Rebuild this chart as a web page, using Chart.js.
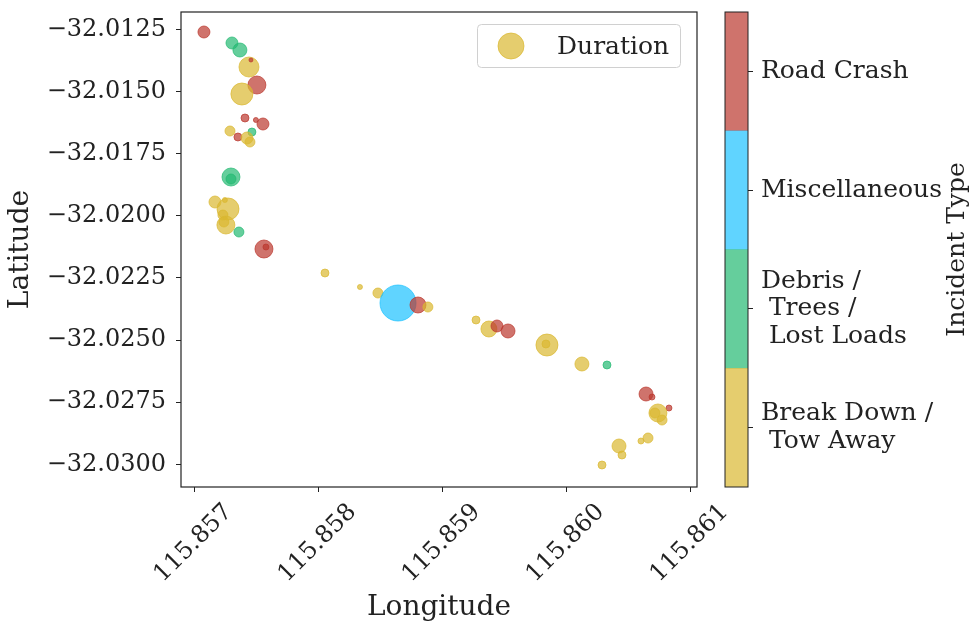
<!DOCTYPE html>
<html>
<head>
<meta charset="utf-8">
<script src="https://cdn.jsdelivr.net/npm/chart.js@4"></script>
<style>
  html, body { margin: 0; padding: 0; background: #fff; }
  #wrap { position: relative; width: 974px; height: 629px; }
  #map { position: absolute; left: 0; top: 0; }
  #bar { position: absolute; left: 710px; top: 0; }
</style>
</head>
<body>
<div id="wrap">
  <canvas id="map" width="740" height="629"></canvas>
  <canvas id="bar" width="264" height="629"></canvas>
</div>
<script>
// Incident categories (bottom to top on the colorbar) and their colours
const incidentTypes = [['Break Down /', ' Tow Away'], ['Debris /', ' Trees /', ' Lost Loads'], 'Miscellaneous', 'Road Crash'];
const typeColors = ['rgba(218,184,48,0.7)', 'rgba(36,185,114,0.7)', 'rgba(29,194,255,0.7)', 'rgba(186,55,45,0.7)'];

// Incidents: position, duration (bubble size) and category index
const lon = [115.857075, 115.857301, 115.857365, 115.857438, 115.857454, 115.857502, 115.857381, 115.857406, 115.857494, 115.857551,
  115.857285, 115.857349, 115.857462, 115.857422, 115.857446, 115.857293, 115.857293, 115.857164, 115.857269, 115.857244,
  115.857228, 115.857252, 115.857236, 115.857357, 115.857559, 115.857575, 115.858051, 115.858333, 115.858478, 115.858640,
  115.858801, 115.858881, 115.859269, 115.859373, 115.859438, 115.859527, 115.859841, 115.859833, 115.860123, 115.860325,
  115.860640, 115.860688, 115.860825, 115.860736, 115.860769, 115.860712, 115.860656, 115.860599, 115.860422, 115.860446,
  115.860285];
const lat = [-32.012609, -32.013051, -32.013333, -32.014017, -32.013735, -32.014741, -32.015103, -32.016068, -32.016149, -32.016310,
  -32.016591, -32.016833, -32.016632, -32.016873, -32.017034, -32.018442, -32.018522, -32.019448, -32.019729, -32.019367,
  -32.019971, -32.020373, -32.020252, -32.020655, -32.021339, -32.021258, -32.022304, -32.022867, -32.023109, -32.023511,
  -32.023591, -32.023672, -32.024195, -32.024557, -32.024436, -32.024637, -32.025201, -32.025160, -32.025965, -32.026005,
  -32.027172, -32.027293, -32.027735, -32.027936, -32.028218, -32.027936, -32.028942, -32.029063, -32.029264, -32.029626,
  -32.030028];
const duration = [144, 144, 196, 400, 16, 324, 484, 64, 25, 144,
  100, 64, 64, 144, 100, 324, 100, 144, 484, 25,
  100, 324, 100, 100, 324, 36, 64, 25, 100, 1296,
  256, 100, 64, 256, 144, 196, 484, 64, 196, 64,
  196, 36, 36, 324, 100, 100, 100, 36, 196, 64,
  64];
const incident = [3, 1, 1, 0, 3, 3, 0, 3, 3, 3,
  0, 3, 1, 0, 0, 1, 1, 0, 0, 0,
  0, 0, 0, 1, 3, 3, 0, 0, 0, 2,
  3, 0, 0, 0, 3, 3, 0, 0, 0, 1,
  3, 3, 3, 0, 0, 0, 0, 0, 0, 0,
  0];

// Axis ticks
const xTicks = [115.857, 115.858, 115.859, 115.860, 115.861];
const yTicks = [-32.0125, -32.0150, -32.0175, -32.0200, -32.0225, -32.0250, -32.0275, -32.0300];

const FONT = 'DejaVu Serif';
const INK = '#222';

// keep tick labels from pushing the plot area around
function noScalePadding(scale) {
  scale.paddingTop = 0;
  scale.paddingBottom = 0;
  scale.paddingLeft = 0;
  scale.paddingRight = 0;
}

// Box around the plot plus the in-plot legend
const frameAndLegend = {
  id: 'frameAndLegend',
  afterDatasetsDraw(chart) {
    const { ctx, chartArea: a } = chart;
    ctx.save();
    ctx.strokeStyle = INK;
    ctx.lineWidth = 1.2;
    ctx.strokeRect(a.left, a.top, a.right - a.left, a.bottom - a.top);

    // legend
    ctx.beginPath();
    ctx.roundRect(477.5, 24.5, 203, 43, 4);
    ctx.fillStyle = 'rgba(255,255,255,0.8)';
    ctx.fill();
    ctx.strokeStyle = '#d0d0d0';
    ctx.lineWidth = 1;
    ctx.stroke();

    ctx.beginPath();
    ctx.arc(511, 46, 13, 0, Math.PI * 2);
    ctx.fillStyle = typeColors[0];
    ctx.fill();
    ctx.strokeStyle = typeColors[0];
    ctx.stroke();

    ctx.fillStyle = INK;
    ctx.font = `25px "${FONT}"`;
    ctx.textBaseline = 'middle';
    ctx.fillText(chart.data.datasets[0].label, 557, 47);
    ctx.restore();
  }
};

new Chart(document.getElementById('map'), {
  type: 'bubble',
  data: {
    datasets: [{
      label: 'Duration',
      data: lon.map((x, i) => ({ x: x, y: lat[i], r: Math.sqrt(duration[i]) / 2 })),
      backgroundColor: incident.map(t => typeColors[t]),
      borderColor: incident.map(t => typeColors[t]),
      borderWidth: 1
    }]
  },
  options: {
    responsive: false,
    animation: false,
    events: [],
    layout: { autoPadding: false, padding: { top: 12, right: 43, left: 0, bottom: 0 } },
    plugins: { legend: { display: false }, tooltip: { enabled: false } },
    scales: {
      x: {
        type: 'linear',
        min: 115.85689,
        max: 115.861051,
        afterBuildTicks: axis => { axis.ticks = xTicks.map(v => ({ value: v })); },
        afterFit: scale => { scale.height = 142; noScalePadding(scale); },
        ticks: {
          autoSkip: false,
          minRotation: 45,
          maxRotation: 45,
          labelOffset: 34,
          padding: 6,
          color: INK,
          font: { family: FONT, size: 24 },
          callback: v => v.toFixed(3)
        },
        grid: { drawOnChartArea: false, drawTicks: true, tickLength: 5, tickColor: INK, tickWidth: 1 },
        border: { display: false },
        title: { display: true, text: 'Longitude', color: INK, font: { family: FONT, size: 28 }, padding: { top: 0, bottom: 4 } }
      },
      y: {
        type: 'linear',
        min: -32.030913,
        max: -32.011804,
        afterBuildTicks: axis => { axis.ticks = yTicks.map(v => ({ value: v })); },
        afterFit: scale => { scale.width = 181; noScalePadding(scale); },
        ticks: {
          padding: 10,
          color: INK,
          font: { family: FONT, size: 24 },
          callback: v => '\u2212' + Math.abs(v).toFixed(4)
        },
        grid: { drawOnChartArea: false, drawTicks: true, tickLength: 5, tickColor: INK, tickWidth: 1 },
        border: { display: false },
        title: { display: true, text: 'Latitude', color: INK, font: { family: FONT, size: 28 }, padding: { top: 4, bottom: 0 } }
      }
    }
  },
  plugins: [frameAndLegend]
});

// Outline of the colorbar and its rotated title
const colorbarDecor = {
  id: 'colorbarDecor',
  afterDraw(chart) {
    const { ctx, chartArea: a } = chart;
    ctx.save();
    ctx.strokeStyle = INK;
    ctx.lineWidth = 1;
    ctx.strokeRect(a.left, a.top, a.right - a.left, a.bottom - a.top);

    ctx.translate(247, (a.top + a.bottom) / 2);
    ctx.rotate(-Math.PI / 2);
    ctx.fillStyle = INK;
    ctx.font = `25px "${FONT}"`;
    ctx.textAlign = 'center';
    ctx.textBaseline = 'middle';
    ctx.fillText('Incident Type', 0, 0);
    ctx.restore();
  }
};

new Chart(document.getElementById('bar'), {
  type: 'bar',
  data: {
    labels: [''],
    datasets: typeColors.map(c => ({
      data: [1],
      backgroundColor: c,
      borderWidth: 0,
      barPercentage: 1,
      categoryPercentage: 1
    }))
  },
  options: {
    responsive: false,
    animation: false,
    events: [],
    layout: { autoPadding: false, padding: { top: 12, bottom: 142, left: 15, right: 0 } },
    plugins: { legend: { display: false }, tooltip: { enabled: false } },
    scales: {
      x: { display: false, stacked: true },
      y: {
        stacked: true,
        position: 'right',
        min: 0,
        max: incidentTypes.length,
        afterBuildTicks: axis => { axis.ticks = incidentTypes.map((t, i) => ({ value: i + 0.5 })); },
        afterFit: scale => { scale.width = 226; noScalePadding(scale); },
        ticks: {
          padding: 8,
          color: INK,
          font: { family: FONT, size: 25, lineHeight: 1.1 },
          callback: (v, i) => incidentTypes[i]
        },
        grid: { drawOnChartArea: false, drawTicks: true, tickLength: 5, tickColor: INK, tickWidth: 1 },
        border: { display: false }
      }
    }
  },
  plugins: [colorbarDecor]
});
</script>
</body>
</html>
